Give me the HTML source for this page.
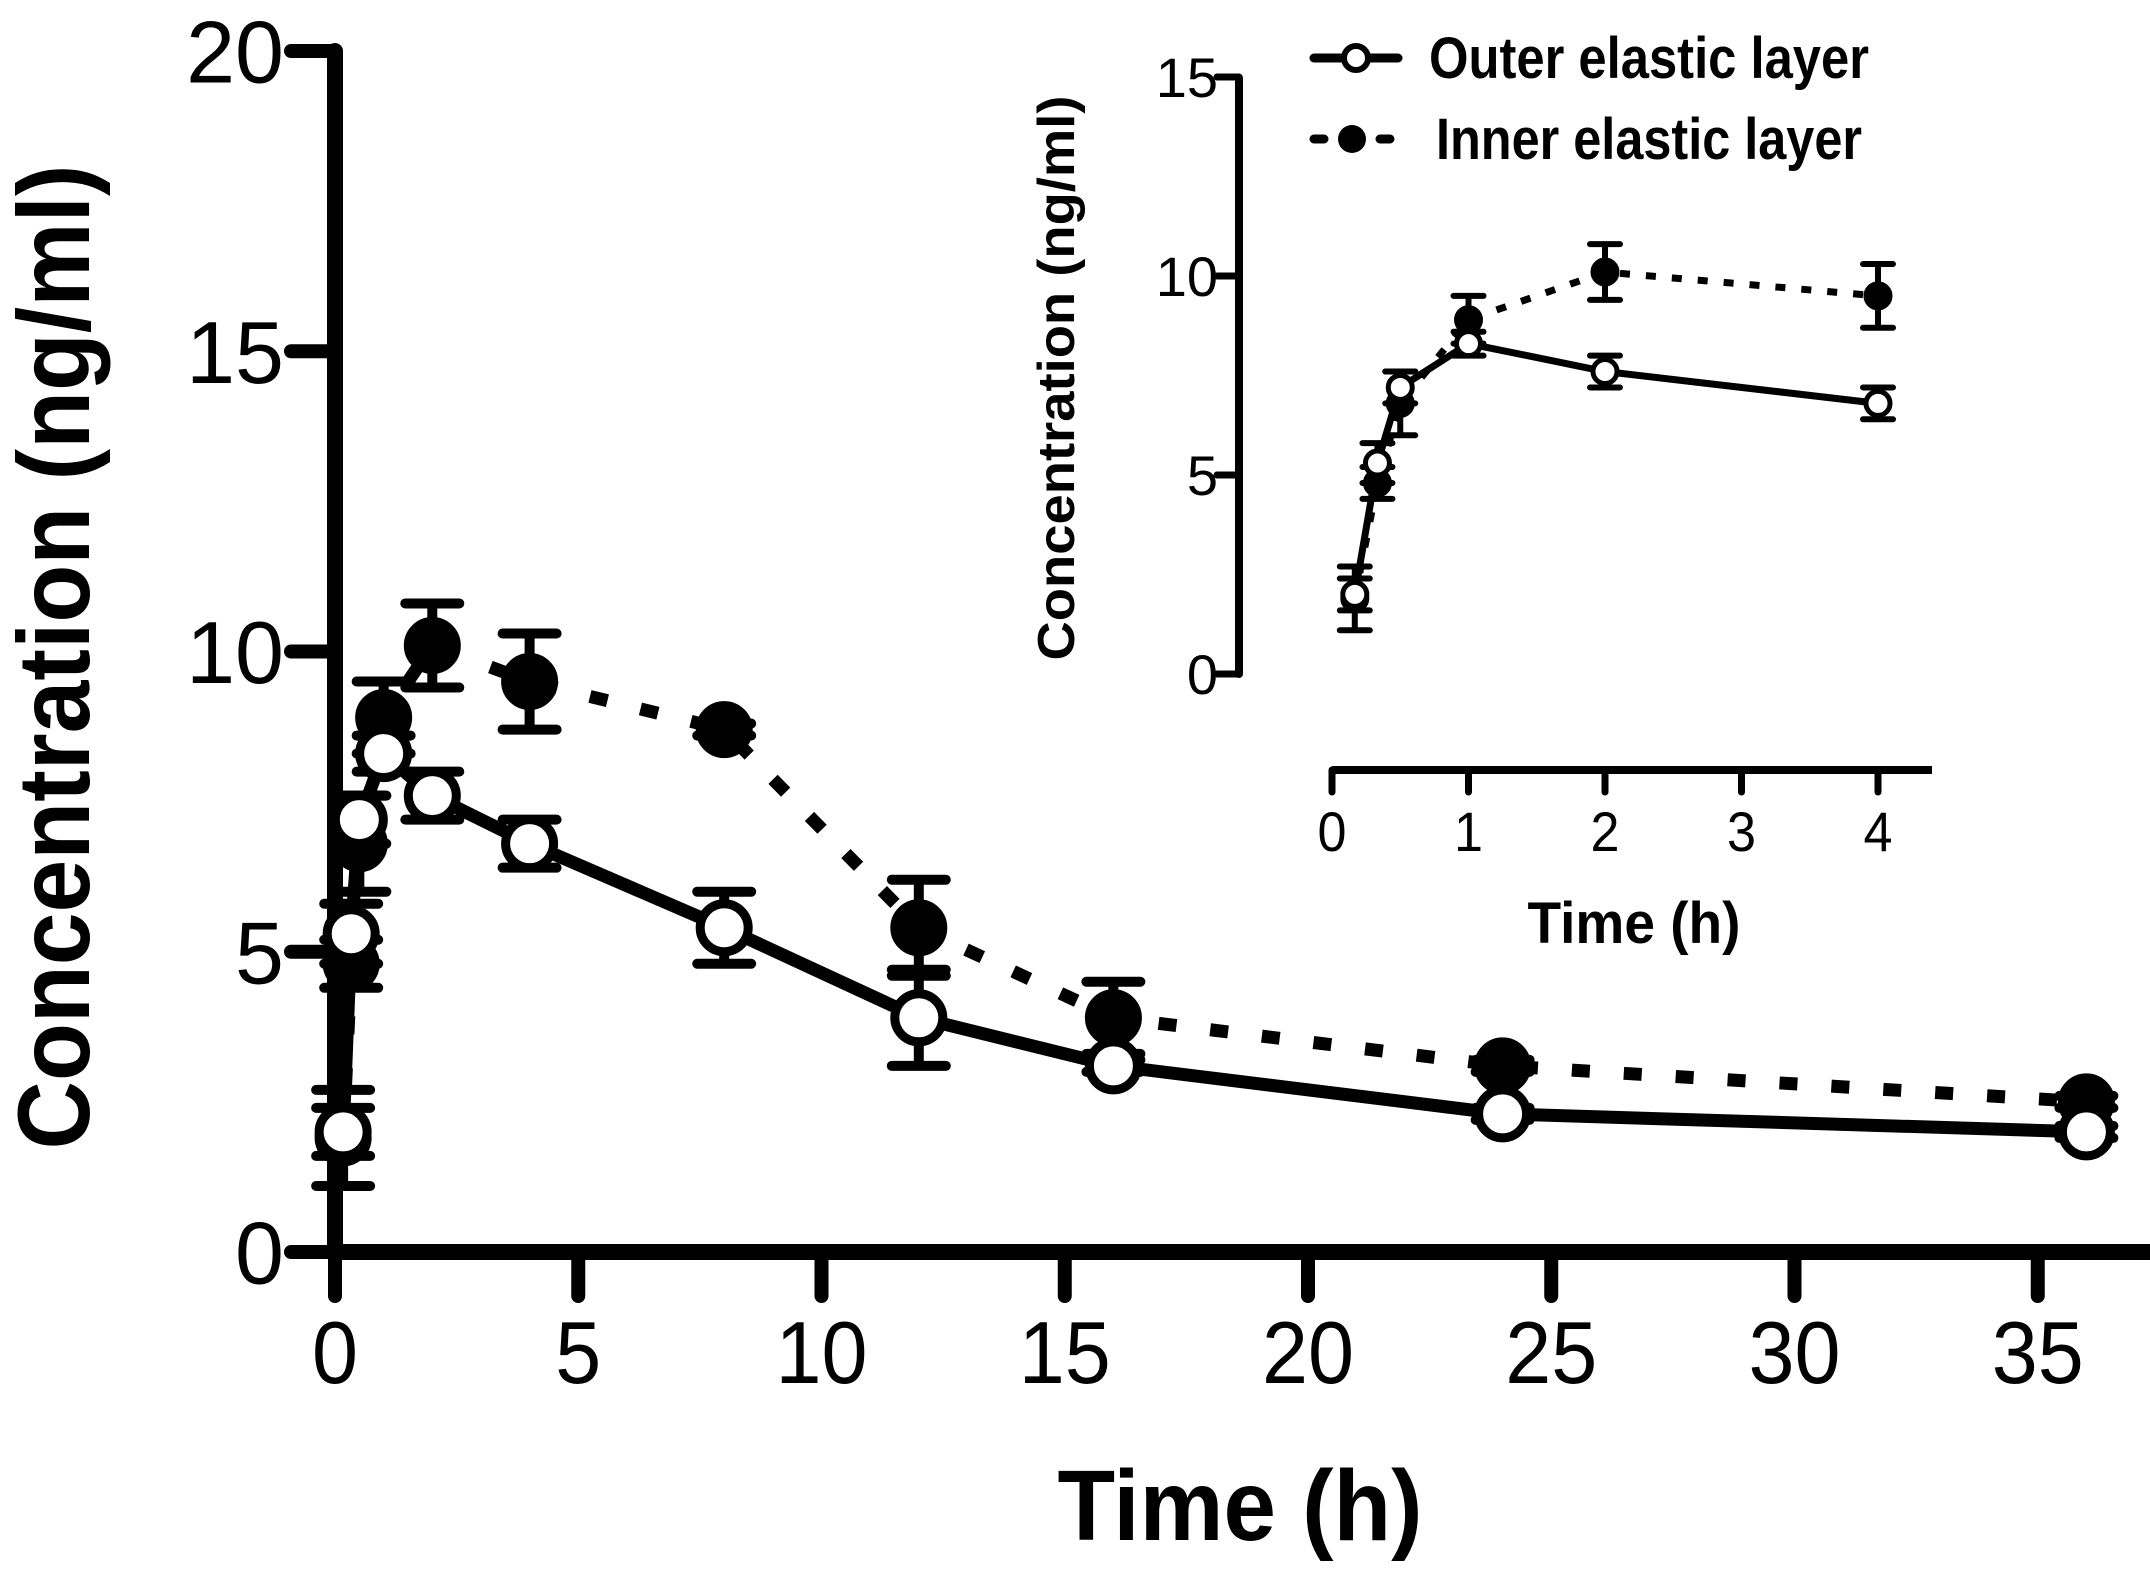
<!DOCTYPE html>
<html><head><meta charset="utf-8"><style>
html,body{margin:0;padding:0;background:#fff;}
svg{display:block;}
text{font-family:"Liberation Sans",Arial,sans-serif;fill:#000;}
</style></head><body>
<svg id="chart" width="2150" height="1577" viewBox="0 0 2150 1577" xmlns="http://www.w3.org/2000/svg">
<g id="main"></g>
<g id="inset"></g>
<g id="legend"></g>
</svg>
<script>
const times = [0.167,0.333,0.5,1,2,4,8,12,16,24,36];
const outerMean = [2.0,5.3,7.2,8.3,7.6,6.8,5.4,3.9,3.1,2.3,2.0];
const outerErr  = [0.4,0.5,0.4,0.3,0.4,0.4,0.6,0.8,0.1,0.1,0.1];
const innerMean = [1.9,4.8,6.8,8.9,10.1,9.5,8.7,5.4,3.9,3.1,2.5];
const innerErr  = [0.8,0.4,0.8,0.6,0.7,0.8,0.1,0.8,0.6,0.1,0.1];
const mainXTicks = [0,5,10,15,20,25,30,35];
const mainYTicks = [0,5,10,15,20];
const insetXTicks = [0,1,2,3,4];
const insetYTicks = [0,5,10,15];
const insetMaxTime = 4;

const NS='http://www.w3.org/2000/svg';
function mk(parent,tag,attrs,txt){const e=document.createElementNS(NS,tag);for(const k in attrs)e.setAttribute(k,attrs[k]);if(txt!==undefined)e.textContent=txt;parent.appendChild(e);return e;}

function drawPlot(g,cfg){
  const X=t=>cfg.x0+(t-cfg.tmin)*cfg.sx, Y=v=>cfg.y0-v*cfg.sy;
  let e=mk(g,'line',{x1:cfg.yAxisX,y1:cfg.yTop,x2:cfg.yAxisX,y2:cfg.yBot,stroke:'#000','stroke-width':cfg.aw,'stroke-linecap':'round'});
  
  
  e=mk(g,'line',{x1:cfg.xL,y1:cfg.xAxisY,x2:cfg.xR,y2:cfg.xAxisY,stroke:'#000','stroke-width':cfg.aw,'stroke-linecap':'butt'});
  
  
  cfg.yt.forEach(v=>{
    const t=mk(g,'line',{x1:cfg.yAxisX-cfg.tl,y1:Y(v),x2:cfg.yAxisX,y2:Y(v),stroke:'#000','stroke-width':cfg.tw,'stroke-linecap':'round'});
    
    
    const l=mk(g,'text',{x:cfg.yLabX,y:Y(v)+cfg.fs*0.36,'font-size':cfg.fs,'text-anchor':'end'},String(v));
    
    
  });
  cfg.xt.forEach(v=>{
    const t=mk(g,'line',{x1:X(v),y1:cfg.xAxisY,x2:X(v),y2:cfg.xAxisY+cfg.tl,stroke:'#000','stroke-width':cfg.tw,'stroke-linecap':'round'});
    
    
    const s=String(v);
    const l=mk(g,'text',{x:X(v),y:cfg.xLabY,'font-size':cfg.fs,'text-anchor':'middle',textLength:cfg.dw*s.length,lengthAdjust:'spacingAndGlyphs'},s);
    
    
  });
  const idx=times.map((t,i)=>i).filter(i=>times[i]<=cfg.tmax);
  const series=[
    {m:innerMean,er:innerErr,name:'inner',dash:cfg.dash,fill:'#000'},
    {m:outerMean,er:outerErr,name:'outer',dash:null,fill:'#fff'}];
  series.forEach(s=>{
    const pts=idx.map(i=>X(times[i])+','+Y(s.m[i])).join(' ');
    const pl=mk(g,'polyline',{points:pts,fill:'none',stroke:'#000','stroke-width':cfg.lw,'stroke-linejoin':'round'});
    if(s.dash)pl.setAttribute('stroke-dasharray',s.dash);
    
    
  });
  series.forEach(s=>{
    idx.forEach(i=>{
      const x=X(times[i]),yh=Y(s.m[i]+s.er[i]),yl=Y(s.m[i]-s.er[i]);
      const eb=mk(g,'path',{d:`M${x},${yh}V${yl}M${x-cfg.cw},${yh}H${x+cfg.cw}M${x-cfg.cw},${yl}H${x+cfg.cw}`,stroke:'#000','stroke-width':cfg.ew,'stroke-linecap':'round',fill:'none'});
      
      
      const c=mk(g,'circle',{cx:x,cy:Y(s.m[i]),r:cfg.r,fill:s.fill,stroke:'#000','stroke-width':cfg.ms});
      
      
    });
  });
}

drawPlot(document.getElementById('main'),{x0:335,tmin:0,sx:48.65,y0:1252,sy:60.05,tmax:40,
  yAxisX:335,yTop:51,yBot:1252,xL:335,xR:2150,xAxisY:1252,aw:16,tw:14,tl:44,
  yt:mainYTicks,xt:mainXTicks,yLabX:284,xLabY:1383,fs:88,dw:46,
  lw:13,dash:'18 34',cw:27,ew:10,r:24,ms:9});
drawPlot(document.getElementById('inset'),{x0:1332,tmin:0,sx:136.5,y0:674,sy:39.8,tmax:insetMaxTime,
  yAxisX:1239,yTop:78,yBot:674,xL:1332,xR:1932,xAxisY:770,aw:8,tw:7,tl:22,
  yt:insetYTicks,xt:insetXTicks,yLabX:1218,xLabY:851,fs:56,dw:29,
  lw:7,dash:'10 16',cw:15,ew:6,r:12,ms:5});

const svg=document.getElementById('chart');
let t=mk(svg,'text',{x:0,y:0,'font-size':102,'font-weight':'bold','text-anchor':'middle',transform:'translate(89,657) rotate(-90)',textLength:985,lengthAdjust:'spacingAndGlyphs'},'Concentration (ng/ml)');


t=mk(svg,'text',{x:1240,y:1540,'font-size':100,'font-weight':'bold','text-anchor':'middle',textLength:365,lengthAdjust:'spacingAndGlyphs'},'Time (h)');


t=mk(svg,'text',{x:0,y:0,'font-size':52,'font-weight':'bold','text-anchor':'middle',transform:'translate(1074,378) rotate(-90)',textLength:565,lengthAdjust:'spacingAndGlyphs'},'Concentration (ng/ml)');


t=mk(svg,'text',{x:1634,y:943,'font-size':58,'font-weight':'bold','text-anchor':'middle',textLength:213,lengthAdjust:'spacingAndGlyphs'},'Time (h)');



const lg=document.getElementById('legend');
let l=mk(lg,'line',{x1:1314,y1:58,x2:1398,y2:58,stroke:'#000','stroke-width':9,'stroke-linecap':'round'});


l=mk(lg,'circle',{cx:1356,cy:58,r:12,fill:'#fff',stroke:'#000','stroke-width':6});


l=mk(lg,'text',{x:1429,y:78,'font-size':58,'font-weight':'bold',textLength:440,lengthAdjust:'spacingAndGlyphs'},'Outer elastic layer');


l=mk(lg,'path',{d:'M1314,139H1324M1380,139H1390',stroke:'#000','stroke-width':9,'stroke-linecap':'round'});


l=mk(lg,'circle',{cx:1352,cy:139,r:14,fill:'#000'});


l=mk(lg,'text',{x:1436,y:159,'font-size':58,'font-weight':'bold',textLength:426,lengthAdjust:'spacingAndGlyphs'},'Inner elastic layer');


</script>
</body></html>
